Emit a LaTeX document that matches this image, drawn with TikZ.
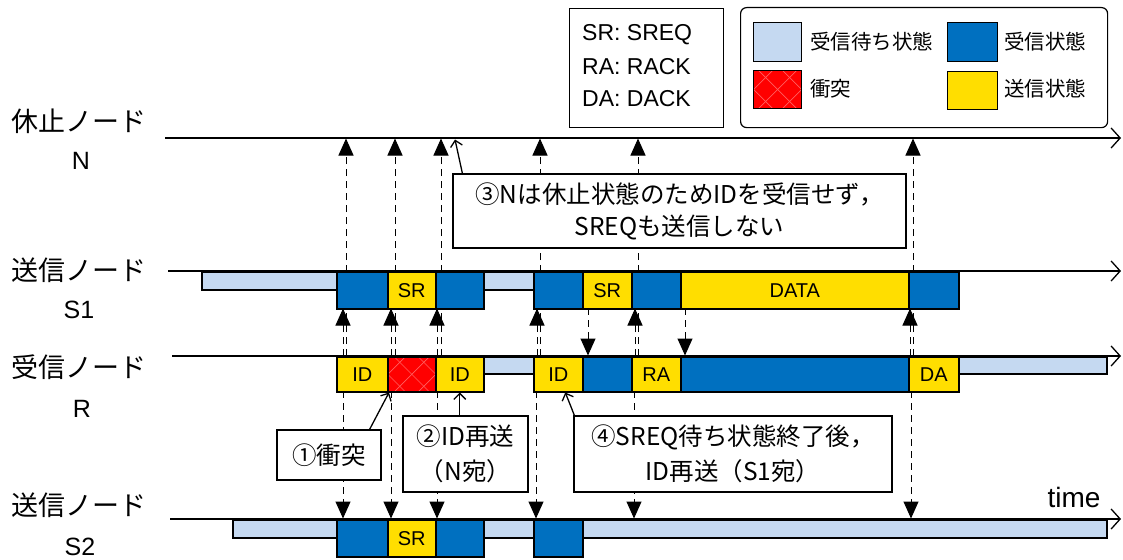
\documentclass[tikz,border=0pt]{standalone}
\usepackage{fontspec}
\setmainfont{Liberation Sans}
\newfontfamily\jp{Noto Sans CJK JP}
\usetikzlibrary{arrows.meta,calc}
\definecolor{lb}{RGB}{197,217,241}
\definecolor{bl}{RGB}{0,112,192}
\definecolor{yl}{RGB}{255,222,0}
\definecolor{rd}{RGB}{255,0,0}
\definecolor{rdl}{RGB}{255,95,95}
\newcommand\seg[7]{\node[#6, minimum width={(#3)-(#2)}, minimum height={(#5)-(#4)}] (#1) at (#2,#4) {#7};}
\begin{document}
\begin{tikzpicture}[x=1pt,y=-1pt,
  segbox/.style={draw=black, line width=1.5pt, inner sep=0pt, anchor=north west, font=\fontsize{20}{22}\selectfont},
  waitst/.style={segbox, fill=lb},
  rxst/.style={segbox, fill=bl},
  txst/.style={segbox, fill=yl},
  colst/.style={segbox, fill=rd, path picture={
    \foreach \k in {-96,-72,...,96}{
      \draw[rdl, line width=0.7pt] ([xshift=\k pt]path picture bounding box.center) ++(-50pt,-50pt) -- ++(100pt,100pt);
      \draw[rdl, line width=0.7pt] ([xshift=\k pt]path picture bounding box.center) ++(-50pt,50pt) -- ++(100pt,-100pt);
    }}},
  tline/.style={line width=1.3pt, -{Straight Barb[length=9pt,width=20pt,line width=1.3pt]}},
  sig/.style={line width=1pt, dash pattern=on 7pt off 5pt, -{Triangle[length=17pt,width=15pt]}},
  anno/.style={draw, fill=white, line width=1.2pt, align=center, inner sep=0pt},
  ptr/.style={line width=1.3pt, -{Straight Barb[length=6pt,width=12pt,line width=1.3pt]}},
  rowlab/.style={font=\jp\fontsize{27}{30}\selectfont},
  rowid/.style={font=\fontsize{25}{28}\selectfont},
  legtxt/.style={anchor=west, inner sep=0pt, font=\jp\fontsize{20.5}{24}\selectfont},
  abtxt/.style={anchor=west, inner sep=0pt, font=\fontsize{23}{26}\selectfont},
]
\useasboundingbox (0,0) rectangle (1123,559);

% row labels
\node[rowlab] (lN1) at (79,121) {休止ノード};
\node[rowid] (lN2) at (81,161) {N};
\node[rowlab] (lS1a) at (79,270) {送信ノード};
\node[rowid] (lS1b) at (79,310) {S1};
\node[rowlab] (lRa) at (79,367) {受信ノード};
\node[rowid] (lRb) at (82,409) {R};
\node[rowlab] (lS2a) at (79,505) {送信ノード};
\node[rowid] (lS2b) at (80,547) {S2};

% timelines
\coordinate (nS) at (165,138); \coordinate (nE) at (1121,138);
\coordinate (aS) at (168,271); \coordinate (aE) at (1121,271);
\coordinate (rS) at (172,356); \coordinate (rE) at (1121,356);
\coordinate (bS) at (170,519); \coordinate (bE) at (1121,519);
\draw[tline] (nS) -- (nE);
\draw[tline] (aS) -- (aE);
\draw[tline] (rS) -- (rE);
\draw[tline] (bS) -- (bE);

% long arrows R -> N
\foreach \x [count=\i] in {346,395,441,540,638,913}{
  \coordinate (ru\i) at (\x,356);
  \coordinate (nu\i) at (\x,138.5);
  \draw[sig] (ru\i) -- (nu\i);
}

% S1 segments
\seg{s1w1}{201}{336}{271}{289}{waitst}{}
\seg{s1r1}{336}{387}{271}{308}{rxst}{}
\seg{s1t1}{387}{435}{271}{308}{txst}{SR}
\seg{s1r2}{435}{483}{271}{308}{rxst}{}
\seg{s1w2}{483}{533}{271}{289}{waitst}{}
\seg{s1r3}{533}{582}{271}{308}{rxst}{}
\seg{s1t2}{582}{631}{271}{308}{txst}{SR}
\seg{s1r4}{631}{680}{271}{308}{rxst}{}
\seg{s1t3}{680}{908}{271}{308}{txst}{DATA}
\seg{s1r5}{908}{958}{271}{308}{rxst}{}

% R segments
\seg{rt1}{336}{387}{356}{391}{txst}{ID}
\seg{rc}{387}{435}{356}{391}{colst}{}
\seg{rt2}{435}{483}{356}{391}{txst}{ID}
\seg{rw1}{483}{533}{356}{373}{waitst}{}
\seg{rt3}{533}{582}{356}{391}{txst}{ID}
\seg{rr1}{582}{631}{356}{391}{rxst}{}
\seg{rt4}{631}{680}{356}{391}{txst}{RA}
\seg{rr2}{680}{908}{356}{391}{rxst}{}
\seg{rt5}{908}{958}{356}{391}{txst}{DA}
\seg{rw2}{958}{1106}{356}{373}{waitst}{}

% S2 segments
\seg{s2w1}{232}{336}{519}{537}{waitst}{}
\seg{s2r1}{336}{387}{519}{556}{rxst}{}
\seg{s2t1}{387}{435}{519}{556}{txst}{SR}
\seg{s2r2}{435}{483}{519}{556}{rxst}{}
\seg{s2w2}{483}{533}{519}{537}{waitst}{}
\seg{s2r3}{533}{582}{519}{556}{rxst}{}
\seg{s2w3}{582}{1106}{519}{537}{waitst}{}

% R -> S1 short up arrows
\foreach \x [count=\i] in {343,391,437,537,635,910}{
  \coordinate (rs\i) at (\x,356);
  \coordinate (as\i) at (\x,308.5);
  \draw[sig] (rs\i) -- (as\i);
}
% R -> S2 down arrows
\foreach \x [count=\i] in {343,391,437,536,634,911}{
  \coordinate (rd\i) at (\x,391);
  \coordinate (bd\i) at (\x,518.5);
  \draw[sig] (rd\i) -- (bd\i);
}
% S1 -> R down arrows
\foreach \x [count=\i] in {588,685}{
  \coordinate (ad\i) at (\x,308);
  \coordinate (rdn\i) at (\x,355.5);
  \draw[sig] (ad\i) -- (rdn\i);
}

% annotations
\node[anno, minimum width=453, minimum height=74, font=\jp\fontsize{24.5}{32}\selectfont] (c3) at (679.5,211) {③Nは休止状態のためIDを受信せず，\\SREQも送信しない};
\node[anno, minimum width=104, minimum height=50, font=\jp\fontsize{24.5}{32}\selectfont] (c1) at (329,455) {①衝突};
\node[anno, minimum width=125, minimum height=76, font=\jp\fontsize{24.5}{35}\selectfont] (c2) at (465.5,454) {②ID再送\\（N宛）};
\node[anno, minimum width=318, minimum height=76, font=\jp\fontsize{24.5}{35}\selectfont] (c4) at (733,454) {④SREQ待ち状態終了後，\\ID再送（S1宛）};

\coordinate (p3) at (455,139.5);
\draw[ptr] ($(c3.north west)+(10,0)$) -- (p3);
\draw[ptr] ($(c1.north east)+(-12,0)$) -- ($(rc.south west)+(2,0)$);
\draw[ptr] (c2.north -| rt2.south) -- (rt2.south);
\draw[ptr] ($(c4.north west)+(1,0)$) -- ($(rt3.south)+(7,0)$);

% time label
\node[font=\fontsize{28}{30}\selectfont] (tm) at (1074,497) {time};

% abbreviation box
\node[draw, line width=1.2pt, fill=white, minimum width=154, minimum height=119, anchor=north west, inner sep=0pt] (abbr) at (569,8) {};
\node[abtxt] (ab1) at (582,35) {SR: SREQ};
\node[abtxt] (ab2) at (582,67) {RA: RACK};
\node[abtxt] (ab3) at (582,99) {DA: DACK};

% legend
\node[draw, line width=1.2pt, fill=white, rounded corners=6pt, minimum width=367, minimum height=120, anchor=north west, inner sep=0pt] (leg) at (740,7) {};
\node[waitst, line width=1.2pt, minimum width=48, minimum height=39] (kw) at (753,22) {};
\node[legtxt] (kwl) at (810,42) {受信待ち状態};
\node[rxst, line width=1.2pt, minimum width=50, minimum height=39] (kr) at (947,22) {};
\node[legtxt] (krl) at (1004,42) {受信状態};
\node[colst, line width=1.2pt, minimum width=48, minimum height=38] (kc) at (753,70) {};
\node[legtxt] (kcl) at (810,89) {衝突};
\node[txst, line width=1.2pt, minimum width=50, minimum height=38] (kt) at (947,71) {};
\node[legtxt] (ktl) at (1004,89) {送信状態};
\end{tikzpicture}
\end{document}
